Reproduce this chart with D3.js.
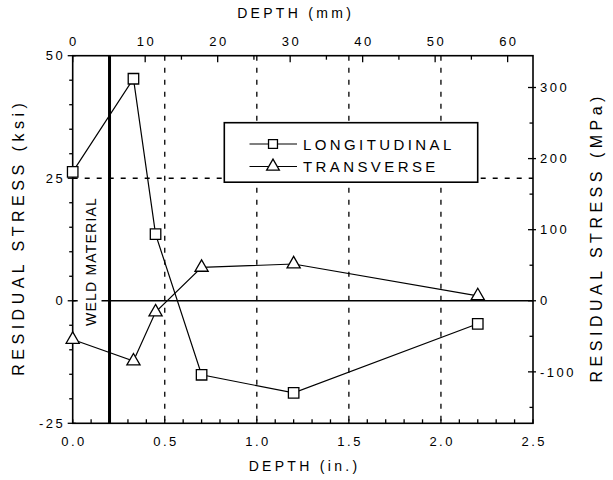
<!DOCTYPE html>
<html><head><meta charset="utf-8">
<script src="https://cdn.jsdelivr.net/npm/d3@7"></script>
<style>
html,body{margin:0;padding:0;background:#fff;}
text{font-family:"Liberation Sans",Arial,sans-serif;fill:#000;}
</style></head>
<body><svg id="c" width="613" height="480"></svg>
<script>
// ---- data ----
const depthIn = [0.0, 0.33, 0.45, 0.70, 1.20, 2.20];
const longitudinal = [26.3, 45.3, 13.6, -15.1, -18.8, -4.7];
const transverse = [-7.9, -12.3, -2.3, 6.8, 7.5, 1.0];
const seriesNames = ["LONGITUDINAL", "TRANSVERSE"];
const xTicksIn = [0.0, 0.5, 1.0, 1.5, 2.0, 2.5];
const xTicksMm = [0, 10, 20, 30, 40, 50, 60];
const yTicksKsi = [-25, 0, 25, 50];
const yTicksMpa = [-100, 0, 100, 200, 300];
const gridIn = [0.5, 1.0, 1.5, 2.0];
const gridKsi = [25];
const weldDepth = 0.2;

const KSI2MPA = 6.894757, IN2MM = 25.4;
const L = 72.7, R = 533, T = 55.7, B = 423.3;
const svg = d3.select("#c");
const x = d3.scaleLinear().domain([0, 2.5]).range([L, R]);
const y = d3.scaleLinear().domain([-25, 50]).range([B, T]);
const xmm = d3.scaleLinear().domain([0, 2.5 * IN2MM]).range([L, R]);
const ympa = d3.scaleLinear().domain([-25 * KSI2MPA, 50 * KSI2MPA]).range([B, T]);

const FS = 13, LS = 2.5;
function styleText(sel, fs, ls) { sel.attr("font-size", fs).attr("letter-spacing", ls); }

// grid dashed lines
svg.selectAll(".gv").data(gridIn).enter().append("line")
  .attr("x1", d => x(d)).attr("x2", d => x(d)).attr("y1", T).attr("y2", B)
  .attr("stroke", "#000").attr("stroke-width", 1.3).attr("stroke-dasharray", "5,7");
svg.selectAll(".gh").data(gridKsi).enter().append("line")
  .attr("x1", L).attr("x2", R).attr("y1", d => y(d)).attr("y2", d => y(d))
  .attr("stroke", "#000").attr("stroke-width", 1.3).attr("stroke-dasharray", "5,7");

// zero line
svg.append("line").attr("x1", L).attr("x2", R).attr("y1", y(0)).attr("y2", y(0))
  .attr("stroke", "#000").attr("stroke-width", 1.6);

// weld material label with knockout
const wy = (y(20.5) + y(-4.7)) / 2;
svg.append("rect").attr("x", L + 5).attr("width", x(weldDepth) - L - 13)
  .attr("y", wy - 68).attr("height", 136).attr("fill", "#fff");
svg.append("text").attr("transform", `translate(${L + 23},${wy}) rotate(-90)`)
  .attr("text-anchor", "middle").attr("dx", 0.6).call(styleText, 14, 1.2).text("WELD MATERIAL");

// weld line
svg.append("line").attr("x1", x(weldDepth)).attr("x2", x(weldDepth)).attr("y1", T).attr("y2", B)
  .attr("stroke", "#000").attr("stroke-width", 3);

// axes frame
const ax = svg.append("g").attr("stroke", "#000").attr("stroke-width", 1.6).attr("fill", "none");
ax.append("rect").attr("x", L).attr("y", T).attr("width", R - L).attr("height", B - T);

// bottom ticks (inside) every 0.1 in
const tk = svg.append("g").attr("stroke", "#000").attr("stroke-width", 1.3);
d3.range(0, 2.5001, 0.1).forEach(v => {
  tk.append("line").attr("x1", x(v)).attr("x2", x(v)).attr("y1", B).attr("y2", B - 4);
});
// top ticks every 5 mm (inside)
d3.range(0, 63.5, 5).forEach(v => {
  const major = v % 10 === 0;
  tk.append("line").attr("x1", xmm(v)).attr("x2", xmm(v)).attr("y1", T).attr("y2", T + (major ? 6.5 : 4));
});
// left ticks every 5 ksi (outside)
d3.range(-25, 50.001, 5).forEach(v => {
  const major = v % 25 === 0;
  tk.append("line").attr("x1", L - (major ? 5 : 3.5)).attr("x2", L + (major ? 3 : 0)).attr("y1", y(v)).attr("y2", y(v));
});
// right ticks every 50 MPa (inside, majors cross)
d3.range(-150, 344, 50).forEach(v => {
  const major = v % 100 === 0;
  tk.append("line").attr("x1", R - (major ? 5 : 3.5)).attr("x2", R + (major ? 3 : 0)).attr("y1", ympa(v)).attr("y2", ympa(v));
});

// tick labels
svg.selectAll(".xb").data(xTicksIn).enter().append("text")
  .attr("x", d => x(d)).attr("y", B + 22.5).attr("text-anchor", "middle").attr("dx", LS / 2)
  .call(styleText, FS, LS).text(d => d3.format(".1f")(d));
svg.selectAll(".xt").data(xTicksMm).enter().append("text")
  .attr("x", d => xmm(d)).attr("y", T - 9.5).attr("text-anchor", "middle").attr("dx", LS / 2)
  .call(styleText, FS, LS).text(d => d);
svg.selectAll(".yl").data(yTicksKsi).enter().append("text")
  .attr("x", L - 10).attr("y", d => y(d) + 4.7).attr("text-anchor", "end").attr("dx", LS)
  .call(styleText, FS, LS).text(d => d);
svg.selectAll(".yr").data(yTicksMpa).enter().append("text")
  .attr("x", R + 7).attr("y", d => ympa(d) + 4.7).attr("text-anchor", "start")
  .call(styleText, FS, LS).text(d => d);

// axis titles
const TL = 3.3, YL = 4.5;
svg.append("text").attr("x", 294).attr("y", 17.5).attr("text-anchor", "middle").attr("dx", TL / 2)
  .call(styleText, 14, TL).text("DEPTH (mm)");
svg.append("text").attr("x", (L + R) / 2).attr("y", 471).attr("text-anchor", "middle").attr("dx", TL / 2)
  .call(styleText, 14, TL).text("DEPTH (in.)");
svg.append("text").attr("transform", `translate(24,${(T + B) / 2}) rotate(-90)`)
  .attr("text-anchor", "middle").attr("dx", YL / 2).call(styleText, 16, YL).text("RESIDUAL STRESS (ksi)");
svg.append("text").attr("transform", `translate(602,${(T + B) / 2}) rotate(-90)`)
  .attr("text-anchor", "middle").attr("dx", YL / 2).call(styleText, 16, YL).text("RESIDUAL STRESS (MPa)");

// series
const line = d3.line().x(d => x(d[0])).y(d => y(d[1]));
const sq = d3.symbol().type(d3.symbolSquare).size(110);
const tri = d3.symbol().type(d3.symbolTriangle).size(75);
const series = [
  { name: seriesNames[0], vals: longitudinal, sym: sq },
  { name: seriesNames[1], vals: transverse, sym: tri }
];
series.forEach(s => {
  const pts = depthIn.map((d, i) => [d, s.vals[i]]);
  svg.append("path").attr("d", line(pts)).attr("fill", "none").attr("stroke", "#000").attr("stroke-width", 1.2);
  svg.selectAll(null).data(pts).enter().append("path")
    .attr("d", s.sym).attr("transform", d => `translate(${x(d[0])},${y(d[1])})`)
    .attr("fill", "#fff").attr("stroke", "#000").attr("stroke-width", 1.3);
});

// legend
const lg = svg.append("g");
lg.append("rect").attr("x", 224.3).attr("y", 122.7).attr("width", 253.4).attr("height", 59.5)
  .attr("fill", "#fff").attr("stroke", "#000").attr("stroke-width", 1.6);
const legSyms = [d3.symbol().type(d3.symbolSquare).size(80), d3.symbol().type(d3.symbolTriangle).size(70)];
series.forEach((s, i) => {
  const ly = 144 + i * 22.5;
  lg.append("line").attr("x1", 249.5).attr("x2", 297).attr("y1", ly).attr("y2", ly).attr("stroke", "#000").attr("stroke-width", 1.2);
  lg.append("path").attr("d", legSyms[i]).attr("transform", `translate(273,${ly})`)
    .attr("fill", "#fff").attr("stroke", "#000").attr("stroke-width", 1.3);
  lg.append("text").attr("x", 303).attr("y", ly + 5.5).call(styleText, 15, 3.4).text(s.name);
});
</script></body></html>
